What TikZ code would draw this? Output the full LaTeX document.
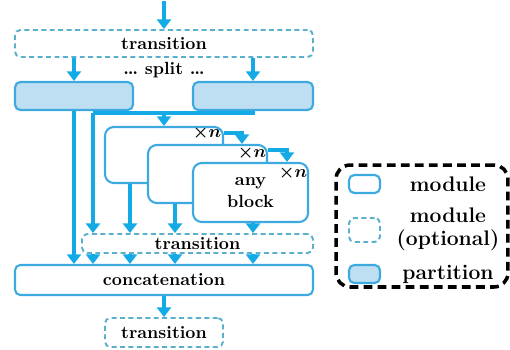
\documentclass[tikz,border=0pt]{standalone}
\usetikzlibrary{arrows.meta}
\definecolor{lineblue}{RGB}{20,170,230}
\definecolor{modblue}{RGB}{60,170,225}
\definecolor{dashblue}{RGB}{90,175,205}
\definecolor{partfill}{RGB}{190,222,242}
\begin{document}
\begin{tikzpicture}[x=0.02cm,y=-0.02cm,font=\bfseries,
  arr/.style={draw=lineblue,line width=2.2pt,-{Triangle[width=8pt,length=5.5pt]}},
  ln/.style={draw=lineblue,line width=2.2pt},
  module/.style={draw=modblue,line width=1.2pt,fill=white,rounded corners=5pt,inner sep=0pt},
  trans/.style={draw=dashblue,line width=1.1pt,dash pattern=on 2.8pt off 2pt,rounded corners=3pt,inner sep=0pt},
  part/.style={draw=modblue,line width=1.2pt,fill=partfill,rounded corners=3pt,inner sep=0pt},
  times/.style={font=\boldmath,inner sep=0pt}]
\useasboundingbox (0,0) rectangle (510,349);
\node[trans,minimum width=5.96cm,minimum height=0.54cm] (tr1) at (164,43.5) {transition};
\node[inner sep=0pt] (split) at (164,70) {\dots\ split \dots};
\node[part,minimum width=2.36cm,minimum height=0.56cm] (partL) at (74,96) {};
\node[part,minimum width=2.4cm,minimum height=0.56cm] (partR) at (253,96) {};
\node[module,minimum width=2.36cm,minimum height=1.12cm] (m1) at (164,155) {};
\node[times] (x1) at (207,133) {$\times n$};
\node[module,minimum width=2.38cm,minimum height=1.16cm] (m2) at (207.5,174) {};
\node[times] (x2) at (252,153) {$\times n$};
\node[module,minimum width=2.3cm,minimum height=1.18cm,align=center] (m3) at (250.5,192.5) {any\\[1pt]block};
\node[times] (x3) at (293,173) {$\times n$};
\node[trans,minimum width=4.62cm,minimum height=0.38cm] (tr2) at (197.5,243.5) {transition};
\node[module,rounded corners=3pt,minimum width=5.96cm,minimum height=0.6cm] (concat) at (164,280) {concatenation};
\node[trans,minimum width=2.36cm,minimum height=0.58cm] (tr3) at (164,332.5) {transition};
\coordinate (in) at (164,1);
\coordinate (sp) at (93,113);
\coordinate (hub) at (164,113);
\draw[arr] (in) -- (tr1);
\draw[arr] (tr1.south -| partL) -- (partL);
\draw[arr] (tr1.south -| partR) -- (partR);
\draw[arr] (partL) -- (concat.north -| partL);
\draw[ln] (partR.south) |- (sp);
\draw[arr] (sp) -- (tr2.north -| sp);
\draw[arr] (hub) -- (m1);
\draw[arr] (m1.east |- 242,133) -| (m2.north -| 242,133);
\draw[arr] (m2.east |- 287,150) -| (m3.north -| 287,150);
\draw[arr] (m1.south -| 130,0) -- (tr2.north -| 130,0);
\draw[arr] (m2.south -| 175,0) -- (tr2.north -| 175,0);
\draw[arr] (m3.south -| 253,0) -- (tr2.north -| 253,0);
\foreach \x in {93,130,175,253}
  \draw[arr] (tr2.south -| \x,0) -- (concat.north -| \x,0);
\draw[arr] (concat) -- (tr3);
\node[draw=black,line width=2pt,dash pattern=on 5pt off 3pt,rounded corners=8pt,minimum width=3.44cm,minimum height=2.44cm] (leg) at (422,226) {};
\node[module,rounded corners=3pt,minimum width=0.62cm,minimum height=0.36cm] (i1) at (364.5,184) {};
\node[trans,minimum width=0.62cm,minimum height=0.48cm] (i2) at (364.5,230) {};
\node[part,minimum width=0.62cm,minimum height=0.36cm] (i3) at (364.5,274) {};
\begin{scope}[font=\bfseries\fontsize{12}{13}\selectfont]
\node (l1) at (448,184) {module};
\node[align=center] (l2) at (448,229) {module\\(optional)};
\node (l3) at (448,274) {partition};
\end{scope}
\end{tikzpicture}
\end{document}
